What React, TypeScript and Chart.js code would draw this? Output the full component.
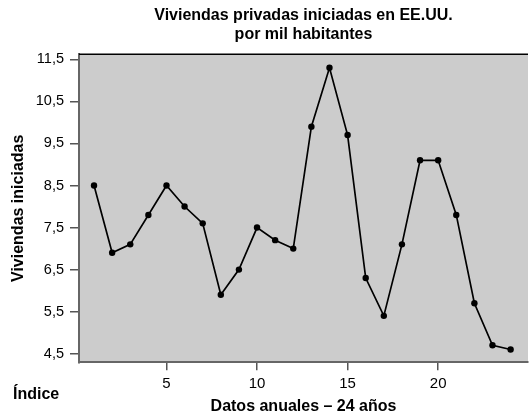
import React, { useEffect, useRef } from "react";
import { Chart, registerables } from "chart.js";

Chart.register(...registerables);

// ---- data ----
const indices = [1, 2, 3, 4, 5, 6, 7, 8, 9, 10, 11, 12, 13, 14, 15, 16, 17, 18, 19, 20, 21, 22, 23, 24];
const housingStarts = [8.5, 6.9, 7.1, 7.8, 8.5, 8.0, 7.6, 5.9, 6.5, 7.5, 7.2, 7.0, 9.9, 11.3, 9.7, 6.3, 5.4, 7.1, 9.1, 9.1, 7.8, 5.7, 4.7, 4.6];
const xTicks = [5, 10, 15, 20];
const yTicks = [4.5, 5.5, 6.5, 7.5, 8.5, 9.5, 10.5, 11.5];
const titleLines = ["Viviendas privadas iniciadas en EE.UU.", "por mil habitantes"];
const yTitle = "Viviendas iniciadas";
const xTitle = "Datos anuales – 24 años";
const cornerLabel = "Índice";

const FONT = "'Liberation Sans', Arial, Helvetica, sans-serif";

const W = 532;
const H = 413;

export default function App() {
  const ref = useRef<HTMLCanvasElement | null>(null);

  useEffect(() => {
    if (!ref.current) return;

    const bgPlugin = {
      id: "plotBg",
      beforeDraw(chart: any) {
        const { ctx, chartArea: a } = chart;
        ctx.save();
        ctx.fillStyle = "#cccccc";
        ctx.fillRect(a.left, a.top, a.right - a.left, a.bottom - a.top);
        ctx.restore();
      },
      afterDraw(chart: any) {
        const { ctx, chartArea: a } = chart;
        ctx.save();
        ctx.strokeStyle = "#000000";
        ctx.lineWidth = 1.5;
        ctx.beginPath();
        ctx.moveTo(a.left, a.top);
        ctx.lineTo(a.right, a.top);
        ctx.stroke();
        ctx.fillStyle = "#000000";
        ctx.font = `bold 16px ${FONT}`;
        ctx.textAlign = "left";
        ctx.textBaseline = "alphabetic";
        ctx.fillText(cornerLabel, 13, 399);
        ctx.restore();
      },
    };

    const chart = new Chart(ref.current, {
      type: "line",
      data: {
        datasets: [
          {
            data: indices.map((x, i) => ({ x, y: housingStarts[i] })),
            borderColor: "#000000",
            backgroundColor: "#000000",
            borderWidth: 1.7,
            pointRadius: 3.2,
            pointBackgroundColor: "#000000",
            pointBorderWidth: 0,
            tension: 0,
          },
        ],
      },
      options: {
        animation: false,
        responsive: false,
        maintainAspectRatio: false,
        layout: { padding: 0 },
        plugins: {
          legend: { display: false },
          tooltip: { enabled: false },
          title: {
            display: true,
            text: titleLines,
            color: "#000000",
            fullSize: false,
            font: { family: FONT, size: 16, weight: "bold", lineHeight: 1.17 },
            padding: { top: 6.35, bottom: 10.55 },
          },
        },
        scales: {
          x: {
            type: "linear",
            min: 0.17,
            max: 24.96,
            afterFit(scale: any) {
              scale.height = 50.7;
            },
            afterBuildTicks(scale: any) {
              scale.ticks = xTicks.map((v) => ({ value: v }));
            },
            ticks: {
              color: "#000000",
              font: { family: FONT, size: 15 },
              padding: 4.5,
              maxRotation: 0,
              autoSkip: false,
            },
            grid: {
              drawOnChartArea: false,
              drawTicks: true,
              tickLength: 8,
              color: "#555555",
              lineWidth: 1.5,
            },
            border: { display: true, color: "#666666", width: 2 },
            title: {
              display: true,
              text: xTitle,
              color: "#000000",
              font: { family: FONT, size: 16, weight: "bold", lineHeight: 0.85 },
              padding: 0,
            },
          },
          y: {
            type: "linear",
            min: 4.295,
            max: 11.62,
            afterFit(scale: any) {
              scale.width = 79;
            },
            afterBuildTicks(scale: any) {
              scale.ticks = yTicks.map((v) => ({ value: v }));
            },
            ticks: {
              color: "#000000",
              font: { family: FONT, size: 14.5 },
              padding: 6,
              autoSkip: false,
              callback: (v: any) => Number(v).toFixed(1).replace(".", ","),
            },
            grid: {
              drawOnChartArea: false,
              drawTicks: true,
              tickLength: 9,
              color: "#555555",
              lineWidth: 1.5,
            },
            border: { display: true, color: "#666666", width: 2 },
            title: {
              display: true,
              text: yTitle,
              color: "#000000",
              font: { family: FONT, size: 16, weight: "bold", lineHeight: 1.2 },
              padding: { top: 9.4, bottom: 0 },
            },
          },
        },
      },
      plugins: [bgPlugin],
    } as any);

    return () => chart.destroy();
  }, []);

  return (
    <div style={{ position: "absolute", left: 0, top: 0, width: W, height: H, background: "#ffffff" }}>
      <canvas ref={ref} width={W} height={H} style={{ display: "block", width: W, height: H }} />
    </div>
  );
}
